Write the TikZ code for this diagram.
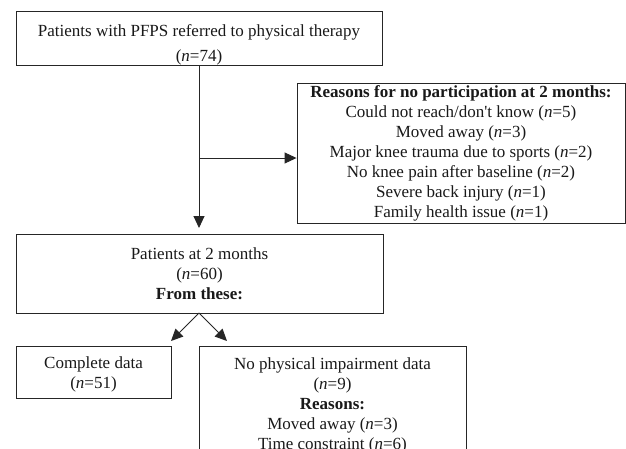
\documentclass[tikz,border=0pt]{standalone}
\usepackage{fontspec}
\setmainfont{Liberation Serif}
\usetikzlibrary{arrows.meta}
\begin{document}
\begin{tikzpicture}[x=1pt,y=-1pt,
  box/.style={draw=black!85, line width=0.9pt, align=center, inner sep=0pt,
    font=\fontsize{17}{20}\selectfont, text=black!90},
  arr/.style={draw=black!85, line width=0.9pt, -{Triangle[length=12pt,width=11pt]}}]
\clip (0,0) rectangle (626,448);
\fill[white] (0,0) rectangle (626,448);
\node[box, minimum width=366pt, minimum height=53pt] (top) at (199,38.5)
  {\rule{0pt}{25pt}Patients with PFPS referred to physical therapy\\[5.5pt](\textit{n}=74)};
\node[box, minimum width=328pt, minimum height=140pt] (reasons) at (461,153)
  {\textbf{Reasons for no participation at 2 months:}\\
   Could not reach/don\textquotesingle t know (\textit{n}=5)\\
   Moved away (\textit{n}=3)\\
   Major knee trauma due to sports (\textit{n}=2)\\
   No knee pain after baseline (\textit{n}=2)\\
   Severe back injury (\textit{n}=1)\\
   Family health issue (\textit{n}=1)};
\node[box, minimum width=367pt, minimum height=79pt] (two) at (199.5,273.5)
  {Patients at 2 months\\(\textit{n}=60)\\\textbf{From these:}};
\node[box, minimum width=155pt, minimum height=52pt] (complete) at (93.5,372)
  {\rule{0pt}{17pt}Complete data\\(\textit{n}=51)};
\node[box, minimum width=267pt, minimum height=114pt] (nophys) at (332.5,403)
  {\rule{0pt}{17pt}No physical impairment data\\(\textit{n}=9)\\\textbf{Reasons:}\\Moved away (\textit{n}=3)\\Time constraint (\textit{n}=6)};
\coordinate (junction) at (199,158);
\coordinate (vend) at (199,228);
\coordinate (apex) at (199,313);
\coordinate (lend) at (171,341);
\coordinate (rend) at (227,341);
\draw[arr] (top.south -| junction) -- (vend);
\draw[arr] (junction) -- (junction -| reasons.west);
\draw[arr] (apex) -- (lend);
\draw[arr] (apex) -- (rend);
\end{tikzpicture}
\end{document}
